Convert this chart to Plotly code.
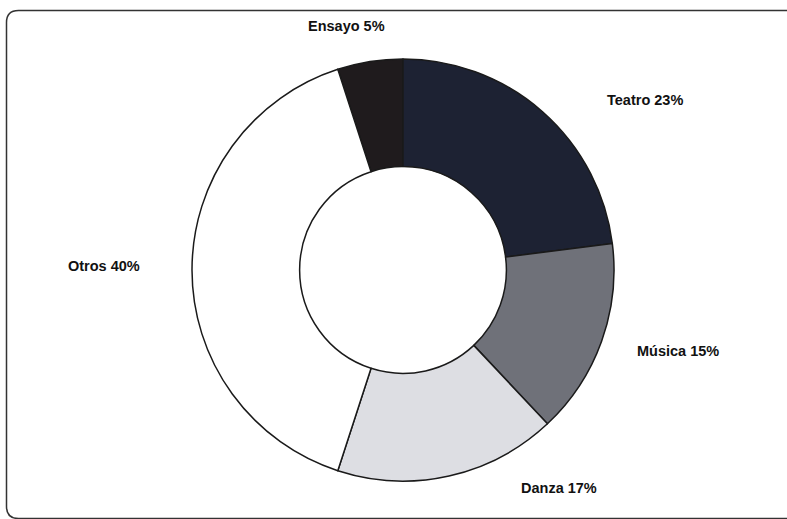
import plotly.graph_objects as go

categories = ["Ensayo", "Teatro", "Música", "Danza", "Otros"]
values = [5, 23, 15, 17, 40]
colors = ["#1f1b1d", "#1d2233", "#6f7179", "#dddee3", "#ffffff"]
label_pos = {  # pixel positions of label centres (x from left, y from top)
    "Ensayo": (346, 26),
    "Teatro": (645, 100),
    "Música": (678, 351),
    "Danza": (559, 488),
    "Otros": (104, 266),
}

W, H = 787, 519
cx, cy, r = 403, 270, 211

fig = go.Figure(go.Pie(
    labels=categories,
    values=values,
    hole=0.49,
    sort=False,
    direction="clockwise",
    rotation=-18,
    marker=dict(colors=colors, line=dict(color="#1a1a1a", width=1.5)),
    textinfo="none",
    hoverinfo="label+percent",
    domain=dict(x=[(cx - r) / W, (cx + r) / W],
                y=[(H - cy - r) / H, (H - cy + r) / H]),
    showlegend=False,
))

for cat, v in zip(categories, values):
    px, py = label_pos[cat]
    fig.add_annotation(
        x=px / W, y=1 - py / H, xref="paper", yref="paper",
        text=f"<b>{cat} {v}%</b>", showarrow=False,
        font=dict(family="Liberation Sans, Arial", size=14.5, color="#111111"),
        xanchor="center", yanchor="middle",
    )

# rounded frame (top and left edges visible, right/bottom run off the picture)
x0, x1, y0, y1 = 6.5, 790, 10.5, 518.5
rc = 12
def px_(x): return x / W
def py_(y): return 1 - y / H
path = (f"M {px_(x1)},{py_(y0)} L {px_(x0+rc)},{py_(y0)} "
        f"Q {px_(x0)},{py_(y0)} {px_(x0)},{py_(y0+rc)} "
        f"L {px_(x0)},{py_(y1-rc)} Q {px_(x0)},{py_(y1)} {px_(x0+rc)},{py_(y1)} "
        f"L {px_(x1)},{py_(y1)}")
fig.add_shape(type="path", path=path, xref="paper", yref="paper",
              line=dict(color="#333333", width=1.5))

fig.update_layout(
    width=W, height=H,
    margin=dict(l=0, r=0, t=0, b=0),
    paper_bgcolor="white",
    plot_bgcolor="white",
)

fig.write_html("out.html",
               config={"displayModeBar": False},
               post_script="document.body.style.margin='0';document.body.style.overflow='hidden';")
